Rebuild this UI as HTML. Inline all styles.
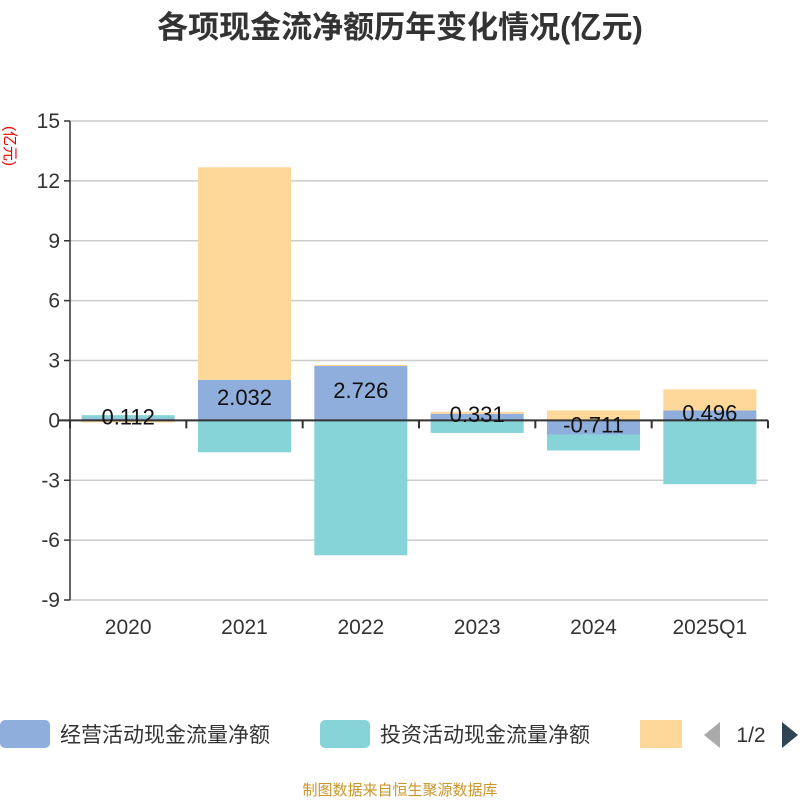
<!DOCTYPE html>
<html><head><meta charset="utf-8"><style>
body{margin:0;background:#fff;width:800px;height:800px;overflow:hidden;font-family:"Liberation Sans","Noto Sans CJK SC",sans-serif}
</style></head><body>
<svg id="c" width="800" height="800" font-family="'Liberation Sans','Noto Sans CJK SC',sans-serif">
<text x="400" y="38" text-anchor="middle" font-size="31" font-weight="bold" fill="#333">各项现金流净额历年变化情况(亿元)</text>
<text transform="translate(5,146) rotate(90)" text-anchor="middle" font-size="15" fill="#e00">(亿元)</text>
<g id="grid"></g><g id="bars"></g><g id="axes"></g><g id="labels"></g>
<g>
<rect x="0" y="720" width="50" height="28" rx="5" fill="#8faedb"/>
<text x="60" y="742" font-size="21" fill="#333">经营活动现金流量净额</text>
<rect x="320" y="720" width="50" height="28" rx="5" fill="#87d4d8"/>
<text x="380" y="742" font-size="21" fill="#333">投资活动现金流量净额</text>
<rect x="640" y="720" width="42" height="28" fill="#fed899"/>
<path d="M720 722 L704 735 L720 748 Z" fill="#aaa"/>
<text x="751" y="742" text-anchor="middle" font-size="21" fill="#333">1/2</text>
<path d="M782 722 L798 735 L782 748 Z" fill="#2f4554"/>
</g>
<text x="400" y="795" text-anchor="middle" font-size="15" fill="#c8962a">制图数据来自恒生聚源数据库</text>
</svg>
<script>
const categories=["2020","2021","2022","2023","2024","2025Q1"];
const operating=[0.112,2.032,2.726,0.331,-0.711,0.496];
const investing=[0.15,-1.6,-6.76,-0.63,-0.8,-3.2];
const financing=[-0.1,10.65,0.05,0.1,0.5,1.06];
const yTicks=[-9,-6,-3,0,3,6,9,12,15];
const NS="http://www.w3.org/2000/svg";
const L=70,R=768,T=121,B=600,yMin=-9,yMax=15;
const y=v=>B-(v-yMin)/(yMax-yMin)*(B-T);
const bw=(R-L)/categories.length;
const x=i=>L+bw*i+bw/2;
function mk(tag,attrs,parent){const e=document.createElementNS(NS,tag);for(const k in attrs)e.setAttribute(k,attrs[k]);document.getElementById(parent).appendChild(e);return e;}
yTicks.forEach(t=>{
 const l=mk('line',{x1:L,x2:R,y1:y(t),y2:y(t),stroke:'#ccc','stroke-width':1.5},'grid');
 
 
 const tk=mk('line',{x1:L-6,x2:L,y1:y(t),y2:y(t),stroke:'#333','stroke-width':1.5},'axes');
 
 
 const tx=mk('text',{x:L-10,y:y(t)+7,'text-anchor':'end','font-size':21,fill:'#333'},'axes');
 tx.textContent=t;
 
 
});
const ya=mk('line',{x1:L,x2:L,y1:T,y2:B,stroke:'#333','stroke-width':1.5},'axes');


const xa=mk('line',{x1:L-12,x2:R,y1:y(0),y2:y(0),stroke:'#333','stroke-width':2},'axes');


for(let i=0;i<=categories.length;i++){
 const tk=mk('line',{x1:L+bw*i,x2:L+bw*i,y1:y(0),y2:y(0)+8,stroke:'#333','stroke-width':2},'axes');
 
 
}
const series=[[operating,'#8faedb','operating'],[investing,'#87d4d8','investing'],[financing,'#fed899','financing']];
categories.forEach((c,i)=>{
 let pos=0,neg=0;
 series.forEach(([arr,col,nm])=>{
  const v=arr[i];let a,b;
  if(v>=0){a=pos;b=pos+v;pos=b;}else{a=neg;b=neg+v;neg=b;}
  const r=mk('rect',{x:x(i)-bw*0.4,width:bw*0.8,y:Math.min(y(a),y(b)),height:Math.abs(y(a)-y(b)),fill:col},'bars');
  
  
 });
 const v=operating[i];
 const lb=mk('text',{x:x(i),y:(y(0)+y(v))/2+5,'text-anchor':'middle','font-size':22,fill:'#111'},'labels');
 lb.textContent=v.toFixed(3);
 
 
 const xl=mk('text',{x:x(i),y:B+34,'text-anchor':'middle','font-size':21,fill:'#333'},'axes');
 xl.textContent=c;
 
 
});
</script>
</body></html>
